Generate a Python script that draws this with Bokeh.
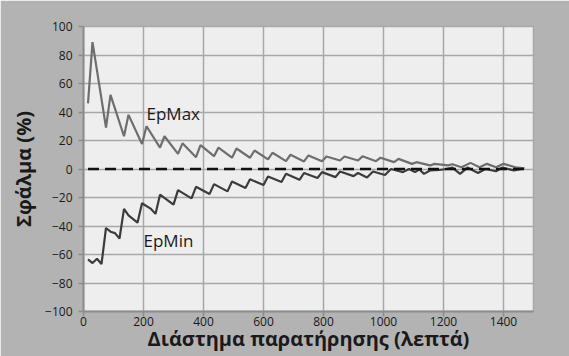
from bokeh.plotting import figure
from bokeh.models import Label
from bokeh.embed import file_html
from bokeh.resources import INLINE

# ---- data ----
epmax_x = [15, 30, 75, 90, 135, 150, 195, 210, 255, 270, 315, 330, 375, 390, 435, 450,
           495, 510, 555, 570, 615, 630, 675, 690, 735, 750, 795, 810, 855, 870, 915, 930,
           975, 990, 1035, 1050, 1095, 1110, 1155, 1170, 1215, 1230, 1260, 1290, 1320,
           1345, 1375, 1400, 1440, 1470]
epmax_y = [46, 89, 29, 52, 23, 38, 17.6, 30, 15, 23, 10.6, 18, 8.3, 16.7, 9, 15,
           7.9, 14.4, 7.9, 13, 6.7, 11.4, 5.5, 10, 5.3, 9.5, 5.5, 8.8, 6, 8.8, 6, 8.9,
           5.5, 7.9, 4.8, 7.1, 3.6, 4.8, 2.5, 3.6, 2.5, 3.3, 1.2, 4.3, 1.2,
           3.6, 1.2, 3.6, 1.2, 0.5]

epmin_x = [15, 30, 45, 60, 75, 90, 105, 120, 135, 150, 180, 195, 225, 240, 255, 300,
           315, 360, 375, 420, 435, 480, 495, 540, 555, 600, 615, 660, 675, 720, 735,
           780, 795, 840, 855, 900, 915, 945, 965, 1005, 1025, 1065, 1085, 1105, 1120,
           1135, 1155, 1185, 1210, 1230, 1255, 1280, 1315, 1340, 1375, 1395, 1435, 1460]
epmin_y = [-63.4, -66, -63, -66.7, -41.4, -44, -45, -48.8, -28, -32.6, -37.7, -24, -28, -31.5, -18, -25,
           -14.8, -20.6, -12.5, -17.6, -10.6, -15.7, -8.8, -13.4, -7.2, -11.3, -5.2, -9.1, -3.3, -7.6, -2.8,
           -6.3, -2.2, -5.7, -1.8, -5, -2.8, -6, -1.8, -4.2, 0, -2.2, 0, -2.2, -0.3,
           -3.4, -1, -0.7, 0, 1, -3.4, 1, -2.8, 0, -1.6, 1, -1, 0]

zero_x = [15, 1470]
zero_y = [0, 0]

x_ticks = [0, 200, 400, 600, 800, 1000, 1200, 1400]
y_ticks = [-100, -80, -60, -40, -20, 0, 20, 40, 60, 80, 100]

FONT = "Open Sans"
TXT = "#1a1a1a"

p = figure(width=569, height=356, x_range=(0, 1500), y_range=(-100, 100),
           output_backend="svg", toolbar_location=None,
           min_border_left=83, min_border_right=36, min_border_top=26, min_border_bottom=45)

p.background_fill_color = "#eeeeee"
p.border_fill_color = "#b3b3b3"
p.outline_line_color = "#a8a8a8"
p.outline_line_width = 1.5

for ax in (p.xaxis, p.yaxis):
    ax.axis_line_color = "#8c8c8c"
    ax.axis_line_width = 2
    ax.major_tick_line_color = "#8c8c8c"
    ax.major_tick_line_width = 1.5
    ax.major_tick_in = 0
    ax.major_tick_out = 5
    ax.minor_tick_line_color = None
    ax.major_label_text_font = FONT
    ax.major_label_text_font_size = "12px"
    ax.major_label_text_color = TXT

p.xaxis.ticker = x_ticks
p.yaxis.ticker = y_ticks
p.xaxis.major_label_standoff = 0
p.yaxis.major_label_standoff = 6

p.yaxis.axis_label = "Σφάλμα (%)"
p.yaxis.axis_label_text_font = FONT
p.yaxis.axis_label_text_font_style = "bold"
p.yaxis.axis_label_text_font_size = "20px"
p.yaxis.axis_label_text_color = TXT
p.yaxis.axis_label_standoff = 5

p.xaxis.axis_label = "Διάστημα παρατήρησης (λεπτά)"
p.xaxis.axis_label_text_font = FONT
p.xaxis.axis_label_text_font_style = "bold"
p.xaxis.axis_label_text_font_size = "20px"
p.xaxis.axis_label_text_color = TXT
p.xaxis.axis_label_standoff = -4

p.xgrid.ticker = x_ticks
p.ygrid.ticker = y_ticks
p.grid.grid_line_color = "#a8a8a8"
p.grid.grid_line_width = 1.5

p.line(epmax_x, epmax_y, line_color="#6e6e6e", line_width=2.2)
p.line(epmin_x, epmin_y, line_color="#3c3c3c", line_width=2.2)
p.line(zero_x, zero_y, line_color="#111111", line_width=2.5, line_dash="11 6")

p.add_layout(Label(x=210, y=39, text="EpMax", text_font=FONT, text_font_size="17px",
                   text_color=TXT, text_baseline="middle"))
p.add_layout(Label(x=200, y=-50, text="EpMin", text_font=FONT, text_font_size="17px",
                   text_color=TXT, text_baseline="middle"))

open("out.html", "w").write(file_html(p, INLINE))
